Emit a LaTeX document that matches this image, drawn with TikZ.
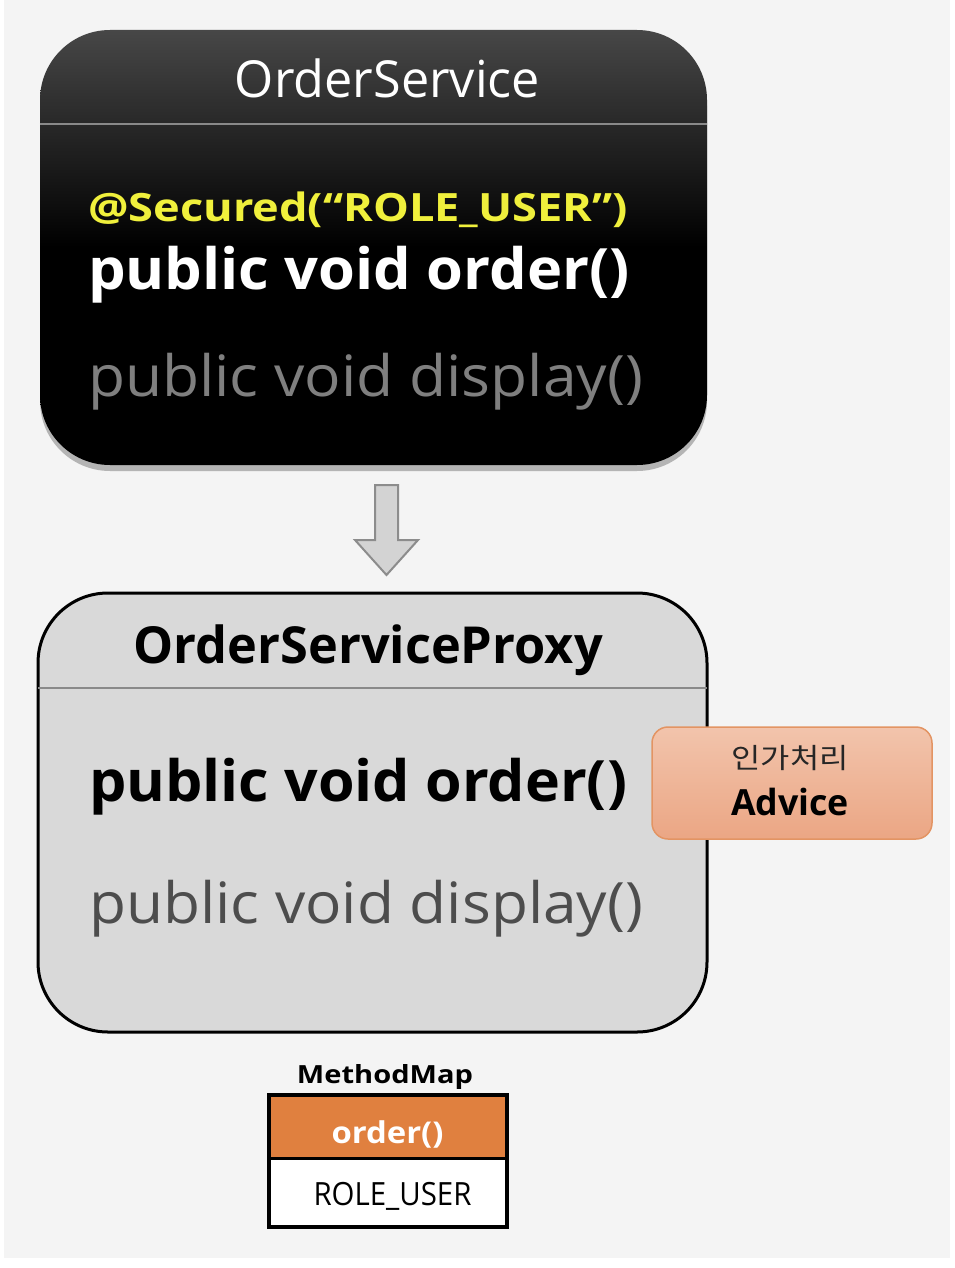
\documentclass[tikz,border=0pt]{standalone}
\usepackage{fontspec}
\setmainfont{Open Sans}
\newfontfamily\krfont{Noto Sans CJK KR}
\usepackage{graphicx}
\usetikzlibrary{shadows}
\definecolor{bgc}{HTML}{F4F4F4}
\definecolor{topgray}{HTML}{474747}
\definecolor{secyellow}{HTML}{F0F03C}
\definecolor{dimgray}{HTML}{7F7F7F}
\definecolor{sepgray}{HTML}{8A8A8A}
\definecolor{proxyfill}{HTML}{D9D9D9}
\definecolor{proxydisp}{HTML}{4D4D4D}
\definecolor{advtop}{HTML}{F2C4AC}
\definecolor{advbot}{HTML}{EBA684}
\definecolor{advline}{HTML}{E39463}
\definecolor{cellorange}{HTML}{E0803F}
\definecolor{arrowfill}{HTML}{D3D3D3}
\definecolor{arrowline}{HTML}{8C8C8C}
\newcommand{\fw}[2]{\resizebox{#1}{\height}{#2}}
\begin{document}
\begin{tikzpicture}[x=1pt,y=-1pt,
  txt/.style={inner sep=0pt, outer sep=0pt},
  topbox/.style={rounded corners=70pt, minimum width=667pt, minimum height=435pt,
    top color=topgray, bottom color=black, middle color=black, draw=none,
    drop shadow={shadow xshift=0pt, shadow yshift=-6pt, opacity=0.55}},
  proxybox/.style={rounded corners=70pt, minimum width=669pt, minimum height=439pt,
    fill=proxyfill, draw=black, line width=3pt},
  sepline/.style={draw=sepgray, line width=2pt},
  advbox/.style={rounded corners=16pt, minimum width=280pt, minimum height=112pt,
    top color=advtop, bottom color=advbot, draw=advline, line width=1.5pt},
  cell/.style={minimum width=237pt, inner sep=0pt, draw=none},
  blockarrow/.style={fill=arrowfill, draw=arrowline, line width=2pt, line join=miter}
]
\useasboundingbox (0,0) rectangle (954,1268);
\fill[white] (0,0) rectangle (954,1268);
\fill[bgc] (4,0) rectangle (950,1258);

% top class box
\node[topbox] (svc) at (373.5,247.5) {};
\draw[sepline] ([yshift=-94.5pt]svc.north west) -- ([yshift=-94.5pt]svc.north east);
\node[txt, anchor=base, text=white] (svct) at (387.5,97.7)
  {\fw{305pt}{\fontsize{51}{60}\selectfont OrderService}};
\node[txt, anchor=base west, text=secyellow] (sec) at (88,221.5)
  {\fw{540pt}{\fontsize{39}{46}\selectfont\bfseries @Secured(“ROLE\_USER”)}};
\node[txt, anchor=base west, text=white] (ord1) at (88,289.3)
  {\fw{542pt}{\fontsize{57}{66}\selectfont\bfseries public void order()}};
\node[txt, anchor=base west, text=dimgray] (disp1) at (88,396.6)
  {\fw{555pt}{\fontsize{57}{66}\selectfont public void display()}};

% block arrow
\coordinate (atop) at (386.5,485);
\draw[blockarrow] (atop) ++(-11.5,0) -- ++(23,0) -- ++(0,55) -- ++(20,0)
  -- ++(-31.5,35) -- ++(-31.5,-35) -- ++(20,0) -- cycle;

% proxy box
\node[proxybox] (proxy) at (372.5,812.5) {};
\draw[sepline] ([yshift=-96pt,xshift=1.5pt]proxy.north west) -- ([yshift=-96pt,xshift=-1.5pt]proxy.north east);
\node[txt, anchor=base, text=black] (proxyt) at (368.2,663.3)
  {\fw{469pt}{\fontsize{51}{60}\selectfont\bfseries OrderServiceProxy}};
\node[txt, anchor=base west, text=black] (ord2) at (89,801.7)
  {\fw{538pt}{\fontsize{57}{66}\selectfont\bfseries public void order()}};
\node[txt, anchor=base west, text=proxydisp] (disp2) at (89,923.3)
  {\fw{554pt}{\fontsize{57}{66}\selectfont public void display()}};

% advice
\node[advbox] (adv) at (792,783) {};
\node[txt, anchor=base, text=black!85] (advkr) at (790,768.5)
  {\fw{117pt}{\fontsize{28}{34}\selectfont\krfont 인가처리}};
\node[txt, anchor=base, text=black] (advt) at (790,815)
  {\fw{118pt}{\fontsize{36}{42}\selectfont\bfseries Advice}};

% method map
\node[txt, anchor=base, text=black] (mmt) at (385,1083.3)
  {\fw{176pt}{\fontsize{25}{30}\selectfont\bfseries MethodMap}};
\node[cell, fill=cellorange, minimum height=63pt] (mk) at (388,1126.5) {};
\node[cell, fill=white, minimum height=68pt] (mv) at (388,1192.5) {};
\draw[line width=3pt] (mk.south west) -- (mk.south east);
\draw[line width=4pt] (mk.north west) rectangle (mv.south east);
\node[txt, anchor=base, text=white] (mkt) at (387.5,1143.3)
  {\fw{112pt}{\fontsize{30}{36}\selectfont\bfseries order()}};
\node[txt, anchor=base, text=black] (mvt) at (392.5,1205)
  {\fw{158pt}{\fontsize{32}{38}\selectfont ROLE\_USER}};
\end{tikzpicture}
\end{document}
